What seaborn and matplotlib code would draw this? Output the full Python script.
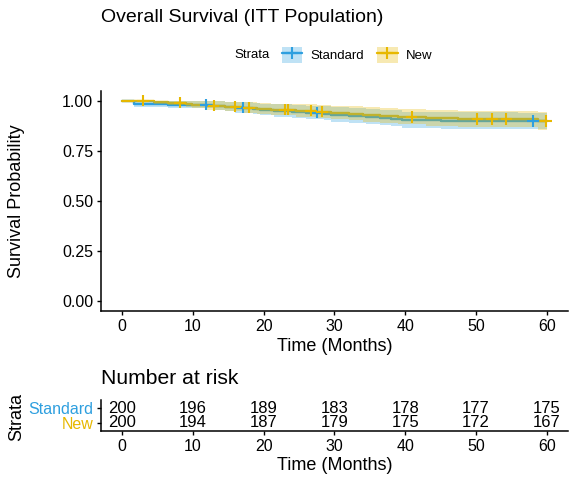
import numpy as np
import pandas as pd
import seaborn as sns
import matplotlib
matplotlib.use("Agg")
from matplotlib import pyplot as plt
from matplotlib.patches import Patch
from matplotlib.lines import Line2D
from matplotlib.legend_handler import HandlerTuple

# Kaplan-Meier steps (time in months, survival, 95% CI)
std_time = [0, 1.6, 6.4, 13.0, 14.5, 16.0, 18.5, 19.5, 21.5, 24.0, 26.0, 28.5, 29.5,
            32.0, 34.5, 36.5, 38.0, 39.5, 45.0, 56.0]
std_surv = [1.0, .985, .980, .975, .970, .965, .960, .955, .950, .945, .940, .935, .930,
            .925, .920, .915, .910, .903, .900, .897]
std_low = [1.0, .968, .961, .954, .947, .940, .933, .926, .920, .914, .907, .901, .895,
           .889, .883, .877, .871, .863, .860, .856]
std_high = [1.0, 1.0, .999, .997, .994, .991, .988, .985, .982, .978, .975, .971, .967,
            .963, .959, .955, .951, .945, .942, .940]
std_cens = [11.8, 17.0, 27.5, 58.1]

new_time = [0, 4.5, 6.5, 9.0, 9.8, 12.0, 14.5, 17.0, 19.0, 21.0, 24.5, 27.5, 29.5,
            32.0, 34.0, 36.5, 39.0, 43.0, 47.5, 58.8]
new_surv = [1.0, .995, .990, .985, .980, .975, .970, .965, .960, .955, .950, .945, .940,
            .935, .930, .925, .919, .913, .908, .897]
new_low = [1.0, .985, .976, .968, .961, .954, .947, .940, .933, .926, .920, .914, .907,
           .901, .895, .889, .882, .875, .869, .855]
new_high = [1.0, 1.0, 1.0, 1.0, .999, .997, .994, .991, .988, .985, .982, .978, .975,
            .971, .967, .963, .958, .953, .949, .941]
new_cens = [2.9, 8.2, 12.9, 16.0, 17.9, 23.0, 23.5, 26.7, 28.2, 40.9, 50.2, 52.3, 54.3, 59.9]

end_time = 60
risk_times = [0, 10, 20, 30, 40, 50, 60]
risk_std = [200, 196, 189, 183, 178, 177, 175]
risk_new = [200, 194, 187, 179, 175, 172, 167]

strata = ["Standard", "New"]
colors = {"Standard": "#2E9FDF", "New": "#E7B800"}

sns.set_theme(style="ticks")
plt.rcParams["font.family"] = ["Liberation Sans", "DejaVu Sans"]
plt.rcParams.update({"text.color": "black", "axes.labelcolor": "black",
                     "xtick.color": "black", "ytick.color": "black"})

arms = {
    "Standard": (std_time, std_surv, std_low, std_high, std_cens),
    "New": (new_time, new_surv, new_low, new_high, new_cens),
}

curve_rows = []
cens_rows = []
for name, (t, s, lo, hi, cens) in arms.items():
    for ti, si in zip(list(t) + [end_time], list(s) + [s[-1]]):
        curve_rows.append({"time": ti, "surv": si, "Strata": name})
    for c in cens:
        idx = np.searchsorted(t, c, side="right") - 1
        cens_rows.append({"time": c, "surv": s[idx], "Strata": name})
curves = pd.DataFrame(curve_rows)
censored = pd.DataFrame(cens_rows)

fig = plt.figure(figsize=(5.75, 4.83), dpi=100)
ax = fig.add_axes([0.1757, 0.3561, 0.812, 0.4563])
ax2 = fig.add_axes([0.1757, 0.1077, 0.812, 0.0642])

# steps first, then the ribbons on top (as survminer does), then censor ticks
sns.lineplot(data=curves, x="time", y="surv", hue="Strata", hue_order=strata,
             palette=colors, drawstyle="steps-post", estimator=None, sort=False,
             linewidth=1.7, legend=False, ax=ax, zorder=2)
for name, (t, s, lo, hi, cens) in arms.items():
    tt = list(t) + [end_time]
    ax.fill_between(tt, list(lo) + [lo[-1]], list(hi) + [hi[-1]], step="post",
                    color=colors[name], alpha=0.3, linewidth=0, zorder=3)
sns.scatterplot(data=censored, x="time", y="surv", hue="Strata", hue_order=strata,
                palette=colors, marker="+", s=70, linewidth=1.5, legend=False,
                ax=ax, zorder=5)

tick_kw = dict(labelsize=11.5, length=3.1, width=1, color="black", pad=2.5)
for a in (ax, ax2):
    sns.despine(ax=a)
    for sp in ("left", "bottom"):
        a.spines[sp].set_linewidth(1.1)
        a.spines[sp].set_color("black")
    a.tick_params(axis="both", **tick_kw)
    a.set_xlim(-3, 63)
    a.set_xticks(risk_times)

ax.set_ylim(-0.05, 1.05)
ax.set_yticks([0, 0.25, 0.5, 0.75, 1.0])
ax.set_yticklabels(["0.00", "0.25", "0.50", "0.75", "1.00"])
ax.set_xlabel("Time (Months)", fontsize=13)
ax.set_ylabel("Survival Probability", fontsize=13)
ax.xaxis.set_label_coords(0.5, -0.162)
ax.xaxis.label.set_va("center")
ax.yaxis.set_label_coords(-0.182, 0.5)
ax.yaxis.label.set_va("center")

# risk table
ax2.set_ylim(0.4, 2.6)
ax2.set_yticks([2, 1])
ax2.set_yticklabels(strata)
for lab, name in zip(ax2.get_yticklabels(), strata):
    lab.set_color(colors[name])
for t, n1, n2 in zip(risk_times, risk_std, risk_new):
    ax2.text(t, 2, str(n1), ha="center", va="center", fontsize=12)
    ax2.text(t, 1, str(n2), ha="center", va="center", fontsize=12)
ax2.set_xlabel("Time (Months)", fontsize=13)
ax2.set_ylabel("Strata", fontsize=13)
ax2.xaxis.set_label_coords(0.5, -1.1)
ax2.xaxis.label.set_va("center")
ax2.yaxis.set_label_coords(-0.181, 0.45)
ax2.yaxis.label.set_va("center")

fig.text(101 / 575, 1 - 18 / 483, "Overall Survival (ITT Population)", fontsize=14,
         ha="left", va="center")
fig.text(101 / 575, 1 - 378 / 483, "Number at risk", fontsize=15.2,
         ha="left", va="center")

# legend
handles = []
for name in strata:
    handles.append((Patch(facecolor=colors[name], alpha=0.3, linewidth=0),
                    Line2D([], [], color=colors[name], linewidth=1.7, marker="+",
                           markersize=8, markeredgewidth=1.5)))
fig.text(252 / 575, 1 - 55 / 483, "Strata", fontsize=9.5, ha="center", va="center")
fig.legend(handles, strata, handler_map={tuple: HandlerTuple(ndivide=1)},
           loc="center", bbox_to_anchor=(357 / 575, 1 - 55 / 483), ncol=2,
           frameon=False, fontsize=9.5, handlelength=1.55, handleheight=1.55,
           handletextpad=0.6, columnspacing=1.0, borderpad=0)

fig.savefig("out.png", dpi=100)
